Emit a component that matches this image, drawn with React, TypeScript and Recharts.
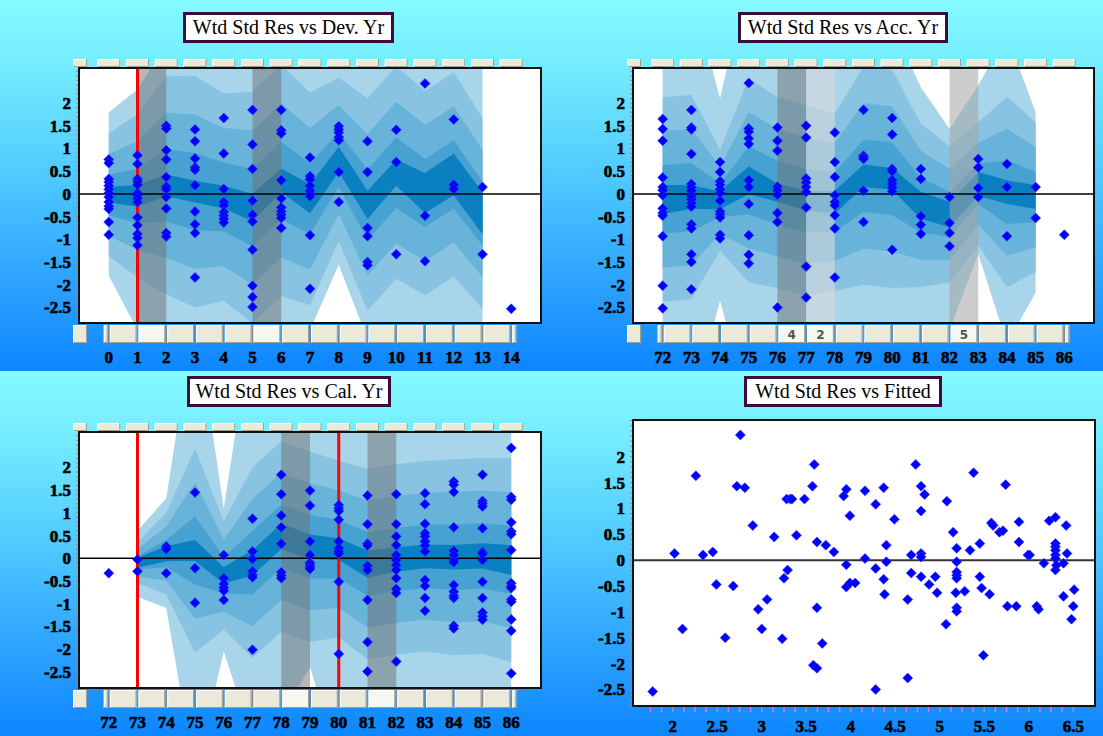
import React from "react";
import {
  ComposedChart,
  Area,
  Scatter,
  XAxis,
  YAxis,
  ReferenceLine,
  ReferenceArea,
} from "recharts";

// ---------- Wtd Std Res vs Dev. Yr ----------
const devYears = [0, 1, 2, 3, 4, 5, 6, 7, 8, 9, 10, 11, 12, 13, 14];
const devResiduals = [
  [0.76, 0.68, 0.33, 0.26, 0.18, 0.1, 0.02, -0.07, -0.18, -0.27, -0.33, -0.62, -0.9],
  [0.85, 0.66, 0.33, 0.27, 0.2, 0.02, -0.03, -0.1, -0.18, -0.52, -0.69, -0.88, -0.97, -1.13],
  [1.5, 1.44, 0.96, 0.76, 0.37, 0.16, 0.1, -0.07, -0.32, -0.86, -0.94],
  [1.42, 1.16, 0.78, 0.58, 0.53, 0.19, -0.39, -0.67, -0.86, -1.84],
  [1.67, 0.89, 0.11, -0.18, -0.25, -0.4, -0.48, -0.55, -0.63],
  [1.85, 1.09, 0.55, -0.15, -0.46, -0.61, -1.23, -2.02, -2.27, -2.49],
  [1.85, 1.4, 1.33, 0.3, -0.1, -0.3, -0.39, -0.46, -0.53, -0.75],
  [0.8, 0.39, 0.32, 0.18, 0.07, 0, -0.05, -0.91, -2.09],
  [1.49, 1.42, 1.35, 1.25, 1.18, 0.48, -0.18],
  [1.16, 0.48, -0.75, -0.93, -1.5, -1.57],
  [1.41, 0.7, -1.33],
  [2.43, -0.48, -1.48],
  [1.64, 0.2, 0.11],
  [0.15, -1.33],
  [-2.53],
];
const devBandX = [0, 1, 2, 3, 4, 5, 6, 7, 8, 9, 10, 11, 12, 13];
const devMean = [-0.02, -0.04, 0.19, 0.05, -0.07, -0.3, 0.3, -0.11, 0.76, -0.24, 0.47, 0.02, 0.43, -0.43];
const devCore = [0.17, 0.24, 0.24, 0.24, 0.25, 0.3, 0.26, 0.32, 0.28, 0.31, 0.29, 0.44, 0.46, 0.46];
const devSpread = [0.45, 0.6, 0.8, 0.85, 0.76, 0.85, 0.85, 0.78, 0.6, 0.78, 0.78, 0.75, 0.75, 0.7];
const devOuterHi = [1.8, 2.3, 3.3, 3.4, 3.2, 3.3, 3.4, 3.2, 3.1, 3.2, 3.2, 3.2, 3.2, 3.0];
const devOuterLo = [-1.8, -3.0, -3.3, -3.4, -3.2, -3.4, -3.3, -3.0, -1.56, -3.2, -3.0, -3.2, -3.0, -3.0];

// ---------- Wtd Std Res vs Acc. Yr ----------
const accYears = [72, 73, 74, 75, 76, 77, 78, 79, 80, 81, 82, 83, 84, 85, 86];
const accResiduals = [
  [1.65, 1.43, 1.17, 0.36, 0.15, 0.08, -0.03, -0.32, -0.42, -0.48, -0.93, -2.02, -2.52],
  [1.85, 1.46, 1.42, 0.88, 0.22, 0.14, 0.07, -0.05, -0.12, -0.2, -0.28, -0.67, -0.76, -1.33, -1.5, -2.1],
  [0.7, 0.48, 0.28, 0.2, 0.1, 0.02, -0.15, -0.39, -0.45, -0.52, -0.9, -0.98],
  [2.44, 1.44, 1.37, 1.22, 1.1, 0.3, 0.15, -0.22, -0.91, -1.34, -1.53],
  [1.46, 1.17, 0.95, 0.16, 0.08, -0.02, -0.42, -0.62, -2.5],
  [1.5, 1.24, 0.34, 0.25, 0.15, 0.04, -0.3, -1.6, -2.28],
  [1.35, 0.7, 0.37, -0.03, -0.18, -0.25, -0.47, -0.76, -1.84],
  [1.85, 0.84, 0.8, 0.77, 0.07, -0.62],
  [1.67, 1.31, 0.55, 0.5, 0.3, 0.22, 0.14, 0.06, -1.23],
  [0.55, 0.33, -0.49, -0.68, -0.88],
  [-0.07, -0.64, -0.86, -1.15],
  [0.77, 0.58, 0.13, -0.07],
  [0.66, 0.15, -0.93],
  [0.15, -0.53],
  [-0.9],
];
const accBandX = [72, 73, 74, 75, 76, 77, 78, 79, 80, 81, 82, 83, 84, 85];
const accMean = [-0.12, -0.07, -0.14, 0.3, 0.03, -0.15, -0.18, 0.4, 0.33, -0.25, -0.45, 0.22, 0.04, -0.07];
const accCore = [0.32, 0.26, 0.2, 0.31, 0.2, 0.22, 0.25, 0.25, 0.24, 0.3, 0.28, 0.26, 0.26, 0.26];
const accSpread = [0.75, 0.75, 0.37, 0.75, 0.7, 0.7, 0.65, 0.8, 0.8, 0.6, 0.5, 0.45, 0.7, 0.55];
const accOuterHi = [3.5, 4.5, 2.1, 4.9, 4.0, 4.0, 4.0, 4.0, 3.7, 2.35, 1.43, 2.4, 3.5, 1.8];
const accOuterLo = [-3.5, -4.7, -2.35, -4.7, -4.0, -4.0, -4.0, -4.0, -4.0, -3.5, -3.0, -1.32, -3.3, -2.17];

// ---------- Wtd Std Res vs Cal. Yr ----------
const calYears = [72, 73, 74, 75, 76, 77, 78, 79, 80, 81, 82, 83, 84, 85, 86];
const calResiduals = [
  [-0.33],
  [-0.03, -0.29],
  [0.26, 0.2, -0.33],
  [1.45, -0.22, -0.98],
  [0.07, -0.44, -0.57, -0.65, -0.72, -0.92],
  [0.87, 0.15, -0.02, -0.29, -0.37, -0.42, -2.02],
  [1.84, 1.41, 0.94, 0.68, 0.32, -0.31, -0.38, -0.44],
  [1.49, 1.16, 0.37, 0.07, -0.1, -0.15, -0.2, -0.24],
  [1.17, 1.1, 1.04, 0.85, 0.37, 0.22, 0.15, 0.1, -0.52, -2.11],
  [1.38, 0.75, 0.32, 0.28, -0.17, -0.26, -0.92, -1.85, -2.5],
  [1.41, 0.75, 0.48, 0.29, 0.07, -0.04, -0.15, -0.26, -0.44, -0.68, -0.77, -2.28],
  [1.43, 1.19, 0.76, 0.55, 0.48, 0.37, 0.28, 0.15, -0.48, -0.61, -0.88, -1.16],
  [1.69, 1.62, 1.46, 0.68, 0.16, 0.07, -0.04, -0.09, -0.59, -0.74, -0.83, -0.88, -1.49, -1.55],
  [1.84, 1.26, 1.2, 1.14, 0.66, 0.13, 0.09, -0.04, -0.52, -0.88, -1.2, -1.28, -1.36],
  [2.43, 1.35, 1.29, 0.79, 0.59, 0.53, 0.18, -0.55, -0.62, -0.66, -0.91, -0.96, -1.35, -1.6, -2.54],
];
const calBandX = [73, 74, 75, 76, 77, 78, 79, 80, 81, 82, 83, 84, 85, 86];
const calMean = [-0.1, 0.1, 0.17, -0.38, -0.1, 0.48, 0.25, 0.2, -0.13, -0.03, 0.04, 0.02, 0.05, -0.04];
const calCore = [0.11, 0.17, 0.23, 0.18, 0.28, 0.28, 0.27, 0.24, 0.3, 0.27, 0.26, 0.27, 0.28, 0.33];
const calSpread = [0.15, 0.3, 0.75, 0.4, 0.7, 0.7, 0.7, 0.65, 0.7, 0.7, 0.7, 0.72, 0.72, 0.75];
const calOuterHi = [0.6, 1.32, 5.4, 1.1, 5.2, 4.0, 4.0, 4.0, 4.0, 4.0, 4.0, 4.0, 4.0, 4.0];
const calOuterLo = [-0.85, -1.1, -4.8, -2.05, -4.0, -3.5, -2.4, -4.5, -4.0, -4.0, -4.0, -4.0, -4.0, -4.0];

// ---------- Wtd Std Res vs Fitted ----------
const fittedValues = [
  1.775, 2.02, 2.11, 2.26, 2.34, 2.45, 2.49, 2.59, 2.68, 2.72, 2.76, 2.81, 2.9, 2.96, 3.0, 3.06,
  3.14, 3.23, 3.25, 3.29, 3.28, 3.32, 3.34, 3.39, 3.48, 3.57, 3.59, 3.58, 3.62, 3.62, 3.62, 3.68,
  3.72, 3.81, 3.92, 3.95, 3.95, 3.95, 3.99, 3.99, 4.05, 4.16, 4.16, 4.28, 4.28, 4.28, 4.37, 4.37,
  4.4, 4.4, 4.38, 4.49, 4.64, 4.64, 4.68, 4.68, 4.73, 4.79, 4.79, 4.79, 4.79, 4.79, 4.83, 4.88,
  4.95, 4.97, 5.07, 5.08, 5.15, 5.19, 5.19, 5.19, 5.19, 5.19, 5.18, 5.19, 5.19, 5.28, 5.34, 5.38,
  5.45, 5.45, 5.47, 5.49, 5.56, 5.58, 5.6, 5.67, 5.71, 5.74, 5.76, 5.86, 5.89, 5.89, 5.99, 6.01,
  6.09, 6.11, 6.17, 6.23, 6.3, 6.3, 6.3, 6.3, 6.3, 6.3, 6.3, 6.31, 6.39, 6.39, 6.42, 6.43, 6.48,
  6.5, 6.51,
];
const fittedResiduals = [
  -2.54, 0.13, -1.33, 1.63, 0.1, 0.16, -0.47, -1.5, -0.5, 1.43, 2.42, 1.4, 0.67, -0.95, -1.33, -0.76,
  0.45, -1.52, -0.35, -0.19, 1.18, 1.18, 1.18, 0.48, 1.18, 1.43, 1.85, -2.03, -2.09, 0.35, -0.92, -1.61,
  0.29, 0.16, 1.24, 1.37, -0.09, -0.52, 0.86, -0.44, -0.44, 1.34, 0.03, 1.08, -0.16, -2.5, 1.4, -0.37,
  0.29, -0.03, -0.66, 0.79, -0.76, -2.28, 0.1, -0.25, 1.85, 1.43, 0.95, 0.13, 0.06, -0.32, 1.27, -0.47,
  -0.32, -0.63, -1.24, 1.14, 0.54, 0.23, -0.03, -0.23, -0.29, -0.35, -0.63, -0.92, -0.99, -0.6, 0.19, 1.69,
  0.32, -0.32, -0.54, -1.84, -0.66, 0.72, 0.67, 0.54, 0.57, 1.46, -0.89, -0.89, 0.35, 0.74, 0.1, 0.1,
  -0.89, -0.95, -0.06, 0.76, 0.83, 0.32, 0.26, 0.19, 0.1, 0.03, -0.19, -0.1, -0.06, -0.7, 0.67, 0.13, -1.14,
  -0.89, -0.57,
];
const fittedXLabels = [2, 2.5, 3, 3.5, 4, 4.5, 5, 5.5, 6, 6.5];

const yLabels = [2, 1.5, 1, 0.5, 0, -0.5, -1, -1.5, -2, -2.5];
const yMinorTicks = Array.from({ length: 56 }, (_, i) => (i - 28) / 10);
const fittedMinorTicks = Array.from({ length: 39 }, (_, i) => 1.75 + i * 0.125);

const BAND = {
  outer: "#a9d5ea",
  l3: "#88c4e2",
  l2: "#68b3da",
  l1: "#47a2d1",
  core: "#0a80c1",
};
const HATCH: Record<string, [string, number]> = {
  dark: ["#6f6f6f", 0.5],
  mid: ["#a4a4a4", 0.55],
  light: ["#dadada", 0.6],
};
const FONT = "'Liberation Serif', 'Times New Roman', serif";

function buildBands(xs: number[], mean: number[], core: number[], spread: number[], hi: number[], lo: number[]) {
  return xs.map((x, i) => ({
    x,
    outer: [lo[i], hi[i]],
    l3: [mean[i] - 3 * spread[i], mean[i] + 3 * spread[i]],
    l2: [mean[i] - 2 * spread[i], mean[i] + 2 * spread[i]],
    l1: [mean[i] - spread[i], mean[i] + spread[i]],
    core: [mean[i] - core[i], mean[i] + core[i]],
  }));
}

function buildPoints(xs: number[], res: number[][]) {
  return xs.flatMap((x, i) => res[i].map((y) => ({ x, y })));
}

const devBands = buildBands(devBandX, devMean, devCore, devSpread, devOuterHi, devOuterLo);
const accBands = buildBands(accBandX, accMean, accCore, accSpread, accOuterHi, accOuterLo);
const calBands = buildBands(calBandX, calMean, calCore, calSpread, calOuterHi, calOuterLo);
const devPoints = buildPoints(devYears, devResiduals);
const accPoints = buildPoints(accYears, accResiduals);
const calPoints = buildPoints(calYears, calResiduals);
const fittedPoints = fittedValues.map((x, i) => ({ x, y: fittedResiduals[i] }));

const Diamond = (p: any) => {
  const { cx, cy } = p;
  if (cx == null || cy == null) return <g />;
  return (
    <polygon
      points={`${cx},${cy - 5} ${cx + 5},${cy} ${cx},${cy + 5} ${cx - 5},${cy}`}
      fill="#0000ff"
      stroke="#3030ff"
      strokeWidth={0.6}
    />
  );
};

const Btn = ({ x, y, w, h, pressed }: any) => (
  <g>
    <rect x={x} y={y} width={w} height={h} fill={pressed ? "#f7f6f1" : "#ece9d8"} />
    <path d={`M${x + 0.5},${y + h} V${y + 0.5} H${x + w}`} stroke="#ffffff" fill="none" />
    <path d={`M${x + 0.5},${y + h - 0.5} H${x + w - 0.5} V${y}`} stroke="#a19e90" fill="none" />
  </g>
);

const isHalf = (v: number) => Math.abs(v * 2 - Math.round(v * 2)) < 1e-6;

// heavy bitmap-like digits: bold face plus a thin outline
const labelProps = {
  fontFamily: FONT,
  fontWeight: 700,
  fontSize: 17,
  fill: "#000",
  stroke: "#000",
  strokeWidth: 0.6,
};

const makeYTick = (plotLeft: number) => (props: any) => {
  const { y, payload } = props;
  const v = payload.value;
  const label = yLabels.find((l) => Math.abs(l - v) < 1e-6);
  return (
    <g>
      <line x1={plotLeft - 4} x2={plotLeft - 1} y1={y} y2={y} stroke="#8c8c8c" />
      {label !== undefined && (
        <text x={plotLeft - 9} y={y + 6} textAnchor="end" {...labelProps}>
          {String(label)}
        </text>
      )}
    </g>
  );
};

type CatCfg = {
  plotTop: number;
  plotBottom: number;
  unit: number;
  first: number;
  last: number;
  pressed: number[];
  texts: { x: number; text: string }[];
};

const makeCatTick = (cfg: CatCfg) => (props: any) => {
  const { x, payload } = props;
  const v = payload.value;
  const topY = cfg.plotTop - 10;
  const botY = cfg.plotBottom + 3;
  const botH = 18;
  if (v < cfg.first) {
    return (
      <g>
        <Btn x={x - 7} y={topY} w={14} h={8} />
        <Btn x={x - 7} y={botY} w={14} h={botH} />
      </g>
    );
  }
  const t = cfg.texts.find((b) => b.x === v);
  return (
    <g>
      <Btn x={x - 11.5} y={topY} w={23} h={8} />
      {v < cfg.last && <Btn x={x + 1} y={botY} w={cfg.unit - 2} h={botH} pressed={cfg.pressed.includes(v)} />}
      {v === cfg.first && <Btn x={x - 5} y={botY} w={4} h={botH} />}
      {v === cfg.last && <Btn x={x + 1} y={botY} w={4} h={botH} />}
      <line x1={x} x2={x} y1={botY} y2={botY + botH} stroke="#8a8a8a" />
      {t && (
        <text x={x + cfg.unit / 2} y={botY + 14} textAnchor="middle" fontFamily="'DejaVu Sans', sans-serif" fontWeight="bold" fontSize={12} fill="#555">
          {t.text}
        </text>
      )}
      <text x={x} y={cfg.plotBottom + 41} textAnchor="middle" {...labelProps}>
        {v}
      </text>
    </g>
  );
};

const makeFitTick = (plotBottom: number) => (props: any) => {
  const { x, payload } = props;
  const v = payload.value;
  const label = fittedXLabels.find((l) => Math.abs(l - v) < 1e-6);
  return (
    <g>
      <line x1={x} x2={x} y1={plotBottom + 2} y2={plotBottom + 7} stroke={label !== undefined ? "#9a9a9a" : "#f070d0"} strokeWidth={1.5} />
      {label !== undefined && (
        <text x={x} y={plotBottom + 27} textAnchor="middle" {...labelProps}>
          {String(label)}
        </text>
      )}
    </g>
  );
};

type PanelProps = {
  left: number;
  top: number;
  width: number;
  height: number;
  plotTop: number;
  plotW: number;
  plotH: number;
  axisH: number;
  xDomain: [number, number];
  yDomain: [number, number];
  cats?: number[];
  bands?: any[];
  points: { x: number; y: number }[];
  redLines?: number[];
  hatches?: { x1: number; x2: number; tone: string }[];
  pressed?: number[];
  texts?: { x: number; text: string }[];
};

const PLOT_LEFT = 80;

const Panel = (p: PanelProps) => {
  const plotBottom = p.plotTop + p.plotH;
  const margin = {
    top: p.plotTop,
    right: p.width - PLOT_LEFT - p.plotW,
    bottom: p.height - plotBottom - p.axisH,
    left: 0,
  };
  const isCat = !!p.cats;
  const unit = p.plotW / (p.xDomain[1] - p.xDomain[0]);
  const xTicks = isCat ? [p.xDomain[0], ...(p.cats as number[])] : fittedMinorTicks;
  const xTick = isCat
    ? makeCatTick({
        plotTop: p.plotTop,
        plotBottom,
        unit,
        first: (p.cats as number[])[0],
        last: (p.cats as number[])[(p.cats as number[]).length - 1],
        pressed: p.pressed || [],
        texts: p.texts || [],
      })
    : makeFitTick(plotBottom);
  return (
    <div style={{ position: "absolute", left: p.left, top: p.top, width: p.width, height: p.height }}>
      <div
        style={{ position: "absolute", left: PLOT_LEFT, top: p.plotTop, width: p.plotW, height: p.plotH, background: "#ffffff" }}
      />
      <ComposedChart width={p.width} height={p.height} data={p.bands || []} margin={margin}>
        <XAxis
          type="number"
          dataKey="x"
          domain={p.xDomain}
          ticks={xTicks}
          interval={0}
          tick={xTick}
          tickLine={false}
          axisLine={false}
          height={p.axisH}
          allowDataOverflow
        />
        <YAxis
          type="number"
          domain={p.yDomain}
          ticks={yMinorTicks}
          interval={0}
          tick={makeYTick(PLOT_LEFT)}
          tickLine={false}
          axisLine={false}
          width={PLOT_LEFT}
          allowDataOverflow
        />
        {p.bands &&
          (["outer", "l3", "l2", "l1", "core"] as const).map((k) => (
            <Area
              key={k}
              type="linear"
              dataKey={k}
              stroke="none"
              fill={BAND[k]}
              fillOpacity={1}
              dot={false}
              activeDot={false}
              isAnimationActive={false}
            />
          ))}
        {(p.hatches || []).map((h, i) => (
          <ReferenceArea
            key={i}
            x1={h.x1}
            x2={h.x2}
            y1={p.yDomain[0]}
            y2={p.yDomain[1]}
            fill={HATCH[h.tone][0]}
            fillOpacity={HATCH[h.tone][1]}
            stroke="none"
          />
        ))}
        <ReferenceLine y={0} stroke={isCat ? "#000000" : "#333333"} strokeWidth={isCat ? 1.5 : 2} />
        {(p.redLines || []).map((x) => (
          <ReferenceLine key={x} x={x} stroke="#ff0000" strokeWidth={3} />
        ))}
        <Scatter data={p.points} dataKey="y" shape={Diamond} isAnimationActive={false} />
      </ComposedChart>
      <div
        style={{
          position: "absolute",
          left: PLOT_LEFT - 2,
          top: p.plotTop - 2,
          width: p.plotW,
          height: p.plotH,
          border: "2px solid #111111",
          pointerEvents: "none",
        }}
      />
    </div>
  );
};

const Title = ({ left, top, width, text }: any) => (
  <div
    style={{
      position: "absolute",
      left,
      top,
      width,
      height: 31,
      boxSizing: "border-box",
      background: "#ffffff",
      border: "3px solid #3c0c3c",
      fontFamily: FONT,
      fontSize: 20,
      lineHeight: "25px",
      textAlign: "center",
      color: "#000",
    }}
  >
    {text}
  </div>
);

const bg = "linear-gradient(180deg, #84fbff 0%, #74ecff 18%, #4cc6ff 50%, #2aa0ff 78%, #0d86ff 100%)";

export default function App() {
  return (
    <div style={{ position: "absolute", left: 0, top: 0, width: 1103, height: 736, overflow: "hidden" }}>
      <div style={{ position: "absolute", left: 0, top: 0, width: 1103, height: 371, background: bg }} />
      <div style={{ position: "absolute", left: 0, top: 371, width: 1103, height: 365, background: bg }} />

      <Panel
        left={0}
        top={0}
        width={556}
        height={368}
        plotTop={69}
        plotW={460}
        plotH={253}
        axisH={40}
        xDomain={[-1, 15]}
        yDomain={[-2.82, 2.75]}
        cats={devYears}
        bands={devBands}
        points={devPoints}
        redLines={[1]}
        hatches={[
          { x1: 1, x2: 2, tone: "dark" },
          { x1: 5, x2: 6, tone: "dark" },
        ]}
        pressed={[1, 5]}
      />
      <Panel
        left={554}
        top={0}
        width={549}
        height={368}
        plotTop={69}
        plotW={459}
        plotH={253}
        axisH={40}
        xDomain={[71, 87]}
        yDomain={[-2.82, 2.75]}
        cats={accYears}
        bands={accBands}
        points={accPoints}
        hatches={[
          { x1: 76, x2: 77, tone: "dark" },
          { x1: 77, x2: 78, tone: "light" },
          { x1: 82, x2: 83, tone: "mid" },
        ]}
        pressed={[76, 77, 82]}
        texts={[
          { x: 76, text: "4" },
          { x: 77, text: "2" },
          { x: 82, text: "5" },
        ]}
      />
      <Panel
        left={0}
        top={368}
        width={556}
        height={368}
        plotTop={65}
        plotW={460}
        plotH={254}
        axisH={40}
        xDomain={[71, 87]}
        yDomain={[-2.84, 2.76]}
        cats={calYears}
        bands={calBands}
        points={calPoints}
        redLines={[73, 80]}
        hatches={[
          { x1: 78, x2: 79, tone: "dark" },
          { x1: 81, x2: 82, tone: "dark" },
        ]}
        pressed={[78, 81]}
      />
      <Panel
        left={554}
        top={368}
        width={549}
        height={368}
        plotTop={53}
        plotW={460}
        plotH={284}
        axisH={28}
        xDomain={[1.565, 6.733]}
        yDomain={[-2.8, 2.69]}
        points={fittedPoints}
      />

      <Title left={183} top={12} width={211} text="Wtd Std Res vs Dev. Yr" />
      <Title left={738} top={12} width={210} text="Wtd Std Res vs Acc. Yr" />
      <Title left={187} top={376} width={204} text="Wtd Std Res vs Cal. Yr" />
      <Title left={744} top={376} width={198} text="Wtd Std Res vs Fitted" />
    </div>
  );
}
